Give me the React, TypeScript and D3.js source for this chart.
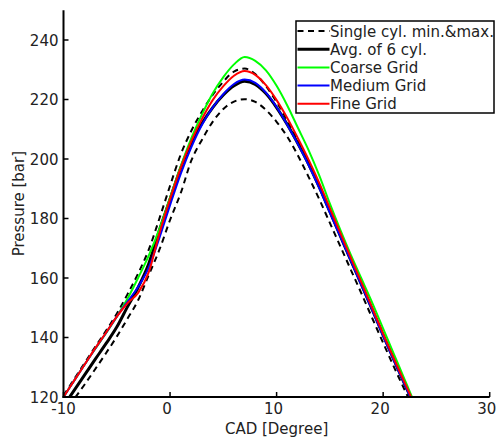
import React from "react";
import * as d3 from "d3";

const cad = [-10, -9, -8, -7, -6, -5, -4, -3, -2, -1, 0, 1, 2, 3, 4, 5, 6, 7, 8, 9, 10, 11, 12, 13, 14, 15, 16, 17, 18, 19, 20, 21, 22, 23];

const cylMin = [114, 119.3, 124.3, 129.5, 134.8, 140.3, 146.3, 152.5, 161, 169.5, 179.5, 188.5, 199.5, 206.5, 212.5, 216.8, 219.3, 220.1, 219.2, 216.5, 212.5, 207.5, 201.2, 194, 186.5, 178.5, 170.5, 162.5, 154.5, 146.3, 138.2, 130.2, 122.5, 115];
const cylMax = [120.5, 126, 131.5, 137, 142.3, 148, 154.5, 161.5, 169.5, 180, 191, 201.5, 209.5, 216, 221.5, 226, 229.4, 230.4, 228.6, 224.5, 219.2, 213, 206.3, 199, 191.2, 183, 174.6, 166.2, 157.8, 149.4, 141, 132.8, 124.7, 116.8];
const avg6 = [117, 122.2, 127.5, 132.8, 138, 143.5, 150.3, 156.8, 164.8, 176, 186.5, 197, 205.5, 212, 217.3, 221.5, 224.6, 226.1, 225.1, 222, 217.3, 211.6, 205.2, 198.3, 190.6, 182.3, 174, 165.7, 157.5, 149.2, 140.8, 132.6, 124.5, 116.8];
const coarse = [120, 125.5, 131, 136.3, 141.5, 147, 153, 160, 167.5, 176.5, 187, 197.5, 207, 215, 222, 227.5, 231.8, 234.3, 233.0, 229.8, 224.6, 218, 210.5, 203, 194.5, 185, 176, 167.5, 159.5, 151.5, 143, 134.5, 126, 117.5];
const medium = [120, 125.5, 131, 136.4, 141.6, 147, 152, 157, 163.5, 173.5, 184.5, 195, 204, 211.5, 217.3, 221.8, 225.2, 226.7, 225.6, 222.3, 217.5, 211.5, 205, 198, 190.3, 182, 173.8, 165.5, 157.3, 149, 140.5, 132.3, 124.3, 116.5];
const fine = [120, 125.5, 131, 136.5, 141.7, 147, 151.5, 155, 162, 175, 186.5, 197, 206, 213.5, 219.8, 224.5, 228, 229.6, 228.3, 224.8, 219.8, 213.8, 207, 199.8, 192, 183.5, 175, 166.5, 158.2, 149.8, 141.2, 133, 125, 117];

const xTicks = [-10, 0, 10, 20, 30];
const yTicks = [120, 140, 160, 180, 200, 220, 240];

const legendLabels = ["Single cyl. min.&max.", "Avg. of 6 cyl.", "Coarse Grid", "Medium Grid", "Fine Grid"];

const W = 496;
const H = 440;
const FONT = "DejaVu Sans";

export default function App() {
  const x = d3.scaleLinear().domain([-10, 30]).range([63.5, 489.7]);
  const y = d3.scaleLinear().domain([120, 250]).range([397, 10.25]);

  const line = (vals: number[]) =>
    d3
      .line<number>()
      .x((_, i) => x(cad[i]))
      .y((v) => y(v))
      .curve(d3.curveMonotoneX)(vals) || "";

  const series = [
    { vals: cylMin, color: "#000", w: 2, dash: "6,4.5" },
    { vals: cylMax, color: "#000", w: 2, dash: "6,4.5" },
    { vals: avg6, color: "#000", w: 3, dash: undefined },
    { vals: coarse, color: "#00ff00", w: 2, dash: undefined },
    { vals: medium, color: "#0000ff", w: 2, dash: undefined },
    { vals: fine, color: "#ff0000", w: 2, dash: undefined },
  ];

  const legendItems = [
    { color: "#000", w: 2, dash: "6,4.5" },
    { color: "#000", w: 3, dash: undefined },
    { color: "#00ff00", w: 2, dash: undefined },
    { color: "#0000ff", w: 2, dash: undefined },
    { color: "#ff0000", w: 2, dash: undefined },
  ];

  const x0 = x(-10);
  const x1 = x(30);
  const y0 = y(120);
  const y1 = y(250);

  return (
    <svg
      width={W}
      height={H}
      style={{ position: "absolute", left: 0, top: 0, background: "#fff" }}
      fontFamily={FONT}
    >
      <defs>
        <clipPath id="plotclip">
          <rect x={x0} y={y1} width={x1 - x0} height={y0 - y1} />
        </clipPath>
      </defs>
      <g clipPath="url(#plotclip)">
        {series.map((s, i) => (
          <path
            key={i}
            d={line(s.vals)}
            fill="none"
            stroke={s.color}
            strokeWidth={s.w}
            strokeDasharray={s.dash}
            strokeLinejoin="round"
          />
        ))}
      </g>
      <line x1={x0} x2={x0} y1={y1} y2={y0 + 1} stroke="#000" strokeWidth={2} />
      <line x1={x0 - 1} x2={x1} y1={y0} y2={y0} stroke="#000" strokeWidth={2} />
      {yTicks.map((t) => (
        <g key={"y" + t}>
          <line x1={x0} x2={x0 + 5} y1={y(t)} y2={y(t)} stroke="#000" strokeWidth={1.5} />
          <text x={x0 - 5} y={y(t) + 5.5} fontSize={15} textAnchor="end" fill="#222">
            {t}
          </text>
        </g>
      ))}
      {xTicks.map((t) => (
        <g key={"x" + t}>
          <line x1={x(t)} x2={x(t)} y1={y0} y2={y0 - 5} stroke="#000" strokeWidth={1.5} />
          <text x={x(t) + (t < 0 ? 0 : -3)} y={y0 + 17} fontSize={15} textAnchor="middle" fill="#222">
            {t}
          </text>
        </g>
      ))}
      <text x={(x0 + x1) / 2} y={434} fontSize={15} textAnchor="middle" fill="#222">
        CAD [Degree]
      </text>
      <text
        transform={`translate(24,${(y0 + y1) / 2}) rotate(-90)`}
        fontSize={15}
        textAnchor="middle"
        fill="#222"
      >
        Pressure [bar]
      </text>
      <rect x={296} y={21} width={198} height={92} fill="#fff" stroke="#000" strokeWidth={1.5} />
      {legendLabels.map((lab, i) => {
        const ly = 31 + i * 18.2;
        const it = legendItems[i];
        return (
          <g key={lab}>
            <line
              x1={297.5}
              x2={329.5}
              y1={ly}
              y2={ly}
              stroke={it.color}
              strokeWidth={it.w}
              strokeDasharray={it.dash}
            />
            <text x={330} y={ly + 5.5} fontSize={15} fill="#222">
              {lab}
            </text>
          </g>
        );
      })}
    </svg>
  );
}
